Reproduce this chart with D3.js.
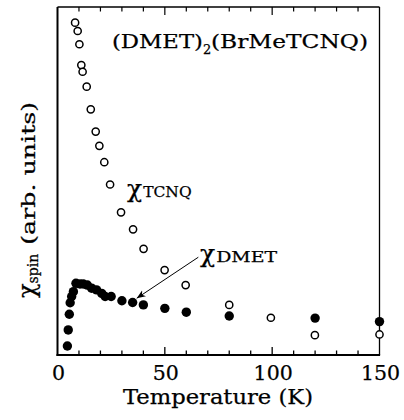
<!DOCTYPE html>
<html>
<head>
<meta charset="utf-8">
<script src="https://cdn.jsdelivr.net/npm/d3@7"></script>
<style>
	body { margin: 0; background: #fff; }
	text { font-family: "DejaVu Serif", "Liberation Serif", serif; fill: #000; stroke: #000; stroke-width: 0.25px; }
</style>
</head>
<body>
<div id="chart"></div>
<script>
// chi_TCNQ (open circles)
var tcnqT   = [8.2, 9.4, 10.2, 11.1, 11.7, 13.6, 15.5, 17.8, 19.5, 21.8, 24.5, 29.6, 35.2, 40.1, 49.9, 59.7, 80, 99.4, 119.9, 150];
var tcnqChi = [95.5, 93.1, 89.3, 83.3, 81.4, 77.1, 70.6, 64.2, 60.1, 55.4, 49.0, 41.0, 36.1, 30.5, 24.4, 20.1, 14.4, 10.7, 5.7, 5.9];

// chi_DMET (filled circles)
var dmetT   = [4.6, 5.0, 5.5, 5.9, 6.6, 7.4, 8.6, 10.5, 12, 13.9, 15.9, 18.2, 20.6, 22.2, 25, 30, 35, 40, 50, 60, 80, 120, 150];
var dmetChi = [2.6, 7.2, 11.7, 15.0, 16.8, 18.2, 20.6, 20.4, 20.4, 20.1, 19.2, 18.7, 17.7, 16.8, 16.8, 15.6, 15.1, 14.4, 13.4, 12.3, 11.2, 10.6, 9.6];

var xTickLabels = [0, 50, 100, 150];
var xMinorTicks = d3.range(0, 151, 10);

// arrow pointing at the DMET curve: [T, chi] start and tip
var arrowFrom = [65.6, 28.1];
var arrowTo   = [36.9, 16.3];

var width = 404, height = 420;
var margin = {left: 57.5, right: 24.5, top: 7, bottom: 65};

var svg = d3.select("#chart")
	.append("svg")
		.attr("width", width)
		.attr("height", height);

var x = d3.scaleLinear().domain([0, 150]).range([margin.left, width - margin.right]);
var y = d3.scaleLinear().domain([0, 100]).range([height - margin.bottom, margin.top]);

var x0 = x.range()[0], x1 = x.range()[1];
var y0 = y.range()[0], y1 = y.range()[1];

// frame: left and bottom heavier
svg.append("line").attr("x1", x0).attr("x2", x1).attr("y1", y1).attr("y2", y1)
	.attr("stroke", "#000").attr("stroke-width", 1.3);
svg.append("line").attr("x1", x1).attr("x2", x1).attr("y1", y1).attr("y2", y0)
	.attr("stroke", "#000").attr("stroke-width", 1.3);
svg.append("line").attr("x1", x0).attr("x2", x0).attr("y1", y1).attr("y2", y0 + 1)
	.attr("stroke", "#000").attr("stroke-width", 2);
svg.append("line").attr("x1", x0 - 1).attr("x2", x1 + 0.6).attr("y1", y0).attr("y2", y0)
	.attr("stroke", "#000").attr("stroke-width", 2);

// ticks, inward on bottom and top
var tickLen = function(d) { return d % 50 === 0 ? 8 : 4.5; };
var ticks = xMinorTicks.filter(function(d) { return d > 0 && d < 150; });
svg.append("g").selectAll("line")
	.data(ticks)
	.enter().append("line")
		.attr("x1", function(d) { return x(d); })
		.attr("x2", function(d) { return x(d); })
		.attr("y1", y0)
		.attr("y2", function(d) { return y0 - tickLen(d); })
		.attr("stroke", "#000").attr("stroke-width", 1.3);
svg.append("g").selectAll("line")
	.data(ticks)
	.enter().append("line")
		.attr("x1", function(d) { return x(d); })
		.attr("x2", function(d) { return x(d); })
		.attr("y1", y1)
		.attr("y2", function(d) { return y1 + tickLen(d); })
		.attr("stroke", "#000").attr("stroke-width", 1.2);

// tick labels
svg.append("g").selectAll("text")
	.data(xTickLabels)
	.enter().append("text")
		.attr("x", function(d) { return x(d) + 1; })
		.attr("y", 380)
		.attr("text-anchor", "middle")
		.attr("font-size", 20.5)
		.text(function(d) { return d; });

svg.append("text")
	.attr("x", 123).attr("y", 403.5)
	.attr("font-size", 19.5)
	.attr("textLength", 190).attr("lengthAdjust", "spacingAndGlyphs")
	.text("Temperature (K)");

// y label, rotated
var ylab = svg.append("text")
	.attr("transform", "translate(35,298) rotate(-90)");
ylab.append("tspan").attr("font-size", 24).text("\u03c7");
ylab.append("tspan").attr("font-size", 14).attr("dy", 3).text("spin");
ylab.append("tspan").attr("font-size", 19).attr("dy", -3).attr("dx", 9)
	.attr("textLength", 143).attr("lengthAdjust", "spacingAndGlyphs")
	.text("(arb. units)");

// title
svg.append("text").attr("x", 112).attr("y", 48)
	.attr("font-size", 19).attr("textLength", 91).attr("lengthAdjust", "spacingAndGlyphs")
	.text("(DMET)");
svg.append("text").attr("x", 203).attr("y", 53.5)
	.attr("font-size", 13).text("2");
svg.append("text").attr("x", 211).attr("y", 48)
	.attr("font-size", 19).attr("textLength", 157).attr("lengthAdjust", "spacingAndGlyphs")
	.text("(BrMeTCNQ)");

// series labels
var lab1 = svg.append("text").attr("x", 127).attr("y", 196.5);
lab1.append("tspan").attr("font-size", 25).text("\u03c7");
lab1.append("tspan").attr("font-size", 15.5).attr("dx", 1).text("TCNQ");

var lab2 = svg.append("text").attr("x", 200).attr("y", 261.5);
lab2.append("tspan").attr("font-size", 25).text("\u03c7");
lab2.append("tspan").attr("font-size", 15.5).attr("dx", 1).attr("textLength", 61).attr("lengthAdjust", "spacingAndGlyphs").text("DMET");

// arrow
svg.append("defs").append("marker")
	.attr("id", "arrow")
	.attr("viewBox", "0 0 10 10")
	.attr("refX", 10).attr("refY", 5)
	.attr("markerWidth", 9).attr("markerHeight", 9)
	.attr("markerUnits", "userSpaceOnUse")
	.attr("orient", "auto")
	.append("path")
		.attr("d", "M0,1 L10,5 L0,9 L3,5 Z")
		.attr("fill", "#000");
svg.append("line")
	.attr("x1", x(arrowFrom[0])).attr("y1", y(arrowFrom[1]))
	.attr("x2", x(arrowTo[0])).attr("y2", y(arrowTo[1]))
	.attr("stroke", "#000").attr("stroke-width", 1)
	.attr("marker-end", "url(#arrow)");

// data points
var dmet = dmetT.map(function(t, i) { return {t: t, chi: dmetChi[i]}; });
var tcnq = tcnqT.map(function(t, i) { return {t: t, chi: tcnqChi[i]}; });

svg.append("g").selectAll("circle")
	.data(dmet)
	.enter().append("circle")
		.attr("cx", function(d) { return x(d.t); })
		.attr("cy", function(d) { return y(d.chi); })
		.attr("r", 4.7)
		.attr("fill", "#000");

svg.append("g").selectAll("circle")
	.data(tcnq)
	.enter().append("circle")
		.attr("cx", function(d) { return x(d.t); })
		.attr("cy", function(d) { return y(d.chi); })
		.attr("r", 3.6)
		.attr("fill", "#fff")
		.attr("stroke", "#000")
		.attr("stroke-width", 1.5);
</script>
</body>
</html>
